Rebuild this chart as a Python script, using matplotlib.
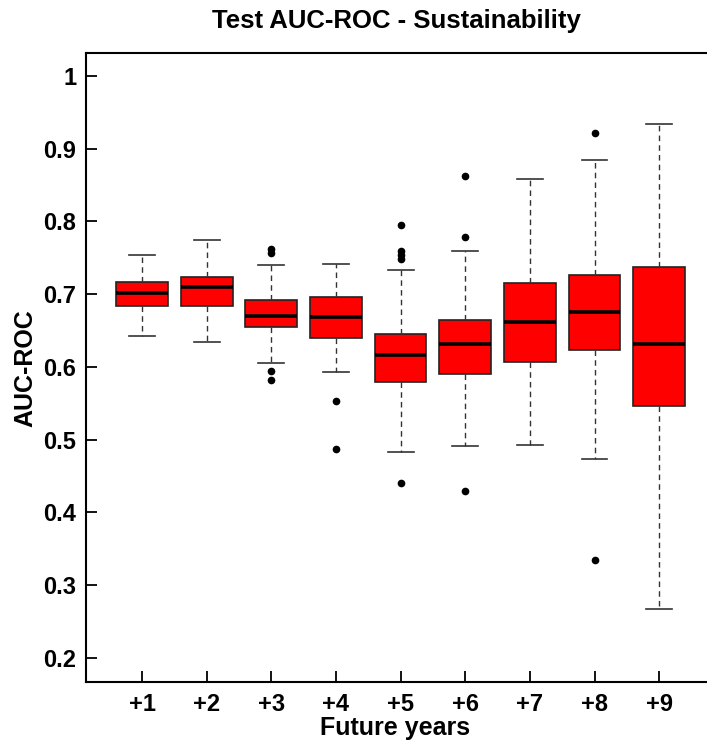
import matplotlib
matplotlib.use('Agg')
import matplotlib.pyplot as plt

labels = ['+1', '+2', '+3', '+4', '+5', '+6', '+7', '+8', '+9']
whislo = [0.642, 0.634, 0.605, 0.593, 0.483, 0.491, 0.493, 0.474, 0.268]
q1 = [0.684, 0.684, 0.655, 0.640, 0.579, 0.590, 0.607, 0.624, 0.547]
med = [0.702, 0.710, 0.670, 0.669, 0.617, 0.632, 0.662, 0.676, 0.632]
q3 = [0.717, 0.724, 0.692, 0.696, 0.646, 0.665, 0.716, 0.727, 0.738]
whishi = [0.754, 0.774, 0.740, 0.742, 0.733, 0.760, 0.859, 0.884, 0.934]
fliers = [
    [],
    [],
    [0.762, 0.757, 0.594, 0.582],
    [0.553, 0.487],
    [0.795, 0.760, 0.754, 0.748, 0.441],
    [0.863, 0.779, 0.430],
    [],
    [0.922, 0.335],
    [],
]

plt.rcParams['font.family'] = ['Liberation Sans', 'DejaVu Sans']
plt.rcParams['font.weight'] = 'bold'

stats = []
for i in range(len(labels)):
    stats.append(dict(label=labels[i], whislo=whislo[i], q1=q1[i], med=med[i],
                      q3=q3[i], whishi=whishi[i], fliers=fliers[i]))

fig = plt.figure(figsize=(7.07, 7.44), dpi=100)
ax = fig.add_axes([86 / 707, 1 - 682 / 744, 1 - 86 / 707, (682 - 53) / 744])

ax.bxp(stats, positions=range(1, 10), widths=0.8, patch_artist=True,
       capwidths=0.4,
       boxprops=dict(facecolor='#ff0000', edgecolor='#222222', linewidth=1.2),
       medianprops=dict(color='black', linewidth=2.6),
       whiskerprops=dict(color='#333333', linestyle=(0, (4, 3)), linewidth=1.0),
       capprops=dict(color='#333333', linewidth=1.2),
       flierprops=dict(marker='o', markerfacecolor='black', markeredgecolor='black',
                       markersize=4.5))

ax.set_xlim(0.133, 9.74)
ax.set_ylim(0.167, 1.0316)
ax.set_yticks([0.2, 0.3, 0.4, 0.5, 0.6, 0.7, 0.8, 0.9, 1.0])
ax.set_yticklabels(['0.2', '0.3', '0.4', '0.5', '0.6', '0.7', '0.8', '0.9', '1'])
ax.set_xticks(range(1, 10))
ax.set_xticklabels(labels)
ax.tick_params(axis='both', length=8, width=1.3, labelsize=17, direction='in')
ax.tick_params(axis='y', pad=7)
ax.tick_params(axis='x', pad=8)
for s in ['left', 'bottom', 'top']:
    ax.spines[s].set_linewidth(1.5)
ax.spines['right'].set_visible(False)

ax.set_title('Test AUC-ROC - Sustainability', fontsize=18.5, fontweight='bold', pad=18)
ax.set_xlabel('Future years', fontsize=18, fontweight='bold')
ax.set_ylabel('AUC-ROC', fontsize=18, fontweight='bold')
ax.xaxis.label.set_va('baseline')
ax.yaxis.label.set_va('center')
ax.xaxis.set_label_coords((395 - 86) / 621, (682 - 735) / 629)
ax.yaxis.set_label_coords((25 - 86) / 621, (682 - 368) / 629)

plt.savefig('out.png', dpi=100)
plt.close()
